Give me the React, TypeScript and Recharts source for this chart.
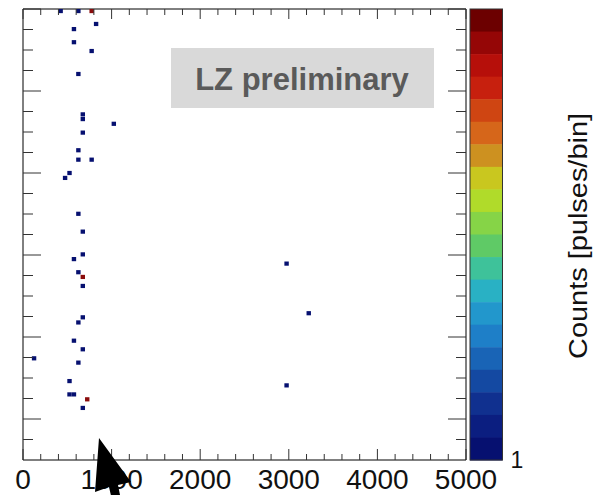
import React from "react";
import { ScatterChart, Scatter, XAxis, YAxis, ReferenceLine } from "recharts";

// ---- data ----
const countOneX = [425, 625, 825, 575, 575, 775, 625, 675, 675, 1025, 675, 625, 625, 775, 525, 475, 625, 675, 675, 575, 625, 675, 675, 625, 575, 675, 125, 625, 525, 525, 575, 675, 2975, 3225, 2975];
const countOneY = [21.9, 21.9, 21.27, 21.02, 20.38, 19.95, 18.83, 16.86, 16.63, 16.4, 15.97, 15.11, 14.65, 14.65, 14.0, 13.76, 12.01, 11.14, 10.03, 9.8, 9.16, 8.49, 6.96, 6.71, 5.82, 5.4, 4.96, 4.75, 3.85, 3.2, 3.2, 2.54, 9.58, 7.16, 3.64];
const countTwoX = [775, 675, 725];
const countTwoY = [21.9, 8.93, 2.96];

const xTicks = [0, 200, 400, 600, 800, 1000, 1200, 1400, 1600, 1800, 2000, 2200, 2400, 2600, 2800, 3000, 3200, 3400, 3600, 3800, 4000, 4200, 4400, 4600, 4800, 5000];
const xMajorTicks = [0, 1000, 2000, 3000, 4000, 5000];
const yTicks = [0, 1, 2, 3, 4, 5, 6, 7, 8, 9, 10, 11, 12, 13, 14, 15, 16, 17, 18, 19, 20, 21, 22];
const yMajorTicks = [2, 6, 10, 14, 18, 22];

const paletteColors = [
  "#6c0000", "#950606", "#b60f0a", "#c7200e", "#cf4512", "#d6661a", "#cd9120",
  "#c9c71f", "#b0db2a", "#86d447", "#5fca66", "#3ec29a", "#29b1c4", "#2297cc",
  "#1e7fc8", "#1964b6", "#1449a2", "#10308f", "#0b1e80", "#061070",
];
const colorbarLabels = ["1"];
const zTitle = "Counts [pulses/bin]";
const stampText = "LZ preliminary";

const countOneData = countOneX.map((x, i) => ({ x, y: countOneY[i] }));
const countTwoData = countTwoX.map((x, i) => ({ x, y: countTwoY[i] }));

// ---- layout ----
const W = 595;
const H = 495;
const PL = 23;
const PR = 466;
const PT = 9;
const PB = 460;
const FONT = "'Liberation Sans', Arial, Helvetica, sans-serif";

const binShape = (color: string) => (props: any) => {
  const { cx, cy } = props;
  if (cx == null || cy == null) return <g />;
  const w = 4.4;
  const h = 4.2;
  const top = Math.max(cy - h / 2, PT);
  const bottom = cy + h / 2;
  return <rect x={cx - w / 2} y={top} width={w} height={bottom - top} fill={color} />;
};

const XTick = (props: any) => {
  const { x, payload } = props;
  const v = payload.value;
  const major = xMajorTicks.includes(v);
  const lenB = major ? 11 : 6;
  const lenT = major ? 10 : 6;
  return (
    <g>
      <line x1={x} x2={x} y1={PB} y2={PB - lenB} stroke="#333" strokeWidth={1} />
      <line x1={x} x2={x} y1={PT} y2={PT + lenT} stroke="#333" strokeWidth={1} />
      {major && (
        <text x={x} y={489} textAnchor="middle" fontFamily={FONT} fontSize={28} fill="#111">
          {String(v)}
        </text>
      )}
    </g>
  );
};

const YTick = (props: any) => {
  const { y, payload } = props;
  const v = payload.value;
  if (v === 0) return <g />;
  const major = yMajorTicks.includes(v);
  const len = major ? 18 : 10;
  return (
    <g>
      <line x1={PL} x2={PL + len} y1={y} y2={y} stroke="#333" strokeWidth={1} />
      <line x1={PR} x2={PR - len} y1={y} y2={y} stroke="#333" strokeWidth={1} />
    </g>
  );
};

const Overlay = () => {
  const cbX = 470;
  const cbW = 32.5;
  const bandH = (PB - PT) / paletteColors.length;
  return (
    <svg width={W} height={H} style={{ position: "absolute", left: 0, top: 0, pointerEvents: "none" }}>
      {/* stamp */}
      <rect x={171} y={48} width={263} height={60} fill="#d9d9d9" />
      <text x={302} y={90} textAnchor="middle" fontFamily={FONT} fontWeight="bold" fontSize={31} fill="#5a5a5a">
        {stampText}
      </text>
      {/* colorbar */}
      {paletteColors.map((c, i) => (
        <rect key={i} x={cbX} y={PT + i * bandH} width={cbW} height={bandH + 0.5} fill={c} />
      ))}
      <rect x={cbX} y={PT} width={cbW} height={PB - PT} fill="none" stroke="#333" strokeWidth={1} />
      <text x={517} y={468} textAnchor="middle" fontFamily={FONT} fontSize={23} fill="#111">
        {colorbarLabels[0]}
      </text>
      <text
        x={0}
        y={0}
        transform="translate(587,236) rotate(-90)"
        textAnchor="middle"
        fontFamily={FONT}
        fontSize={25}
        fill="#111"
        textLength={246}
        lengthAdjust="spacingAndGlyphs"
      >
        {zTitle}
      </text>
      {/* pointer arrow annotation */}
      <polygon
        points="99,438 95,492 109,487 112,500 121,500 118,485 131,482"
        fill="#000"
      />
    </svg>
  );
};

export default function App() {
  return (
    <div style={{ position: "absolute", left: 0, top: 0, width: W, height: H, background: "#fff" }}>
      <ScatterChart width={W} height={H} margin={{ top: PT, right: W - PR, bottom: 0, left: 0 }}>
        <XAxis
          type="number"
          dataKey="x"
          domain={[0, 5000]}
          ticks={xTicks}
          interval={0}
          height={H - PB}
          tickLine={false}
          axisLine={{ stroke: "#000", strokeWidth: 1 }}
          tick={<XTick />}
          allowDataOverflow
        />
        <YAxis
          type="number"
          dataKey="y"
          domain={[0, 22]}
          ticks={yTicks}
          interval={0}
          width={PL}
          tickLine={false}
          axisLine={{ stroke: "#000", strokeWidth: 1 }}
          tick={<YTick />}
          allowDataOverflow
        />
        <ReferenceLine y={22} stroke="#000" strokeWidth={1} />
        <ReferenceLine x={5000} stroke="#000" strokeWidth={1} />
        <Scatter data={countOneData} shape={binShape(paletteColors[paletteColors.length - 1])} isAnimationActive={false} />
        <Scatter data={countTwoData} shape={binShape("#8a0c0c")} isAnimationActive={false} />
      </ScatterChart>
      <Overlay />
    </div>
  );
}
